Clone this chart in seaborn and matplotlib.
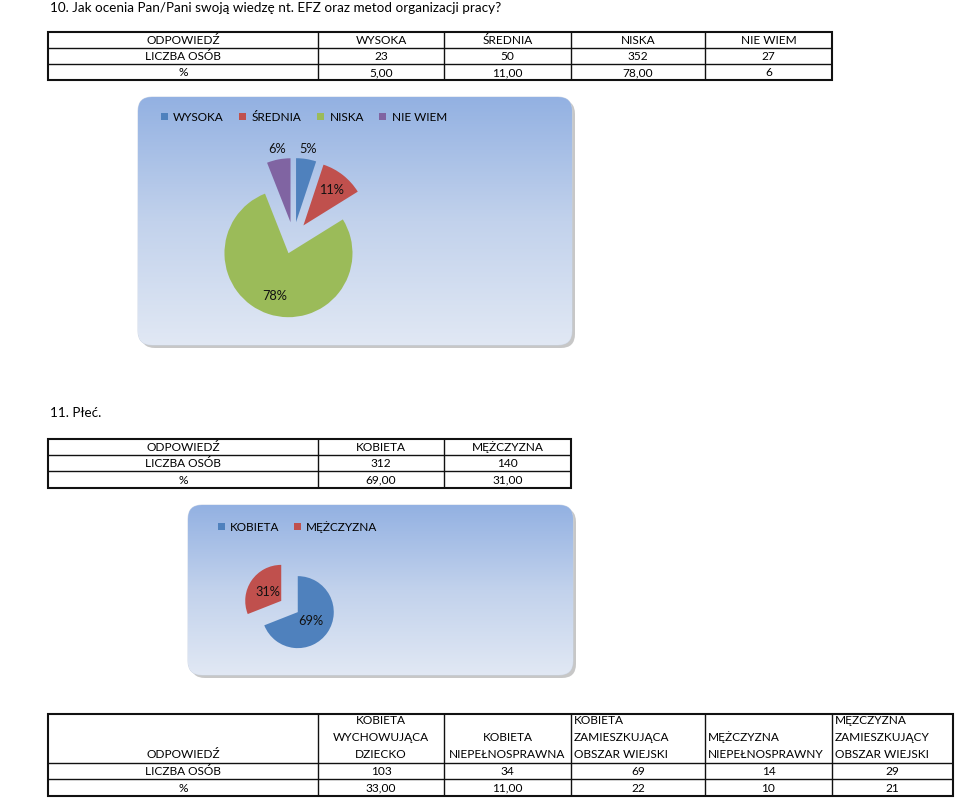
import numpy as np
import matplotlib
matplotlib.use("Agg")
import matplotlib.pyplot as plt
import seaborn as sns
from matplotlib.patches import FancyBboxPatch
from matplotlib.colors import LinearSegmentedColormap

# ---------------- data ----------------
q10_title = "10. Jak ocenia Pan/Pani swoją wiedzę nt. EFZ oraz metod organizacji pracy?"
q10_categories = ["WYSOKA", "ŚREDNIA", "NISKA", "NIE WIEM"]
q10_counts = [23, 50, 352, 27]
q10_percent_text = ["5,00", "11,00", "78,00", "6"]

q11_title = "11. Płeć."
q11_categories = ["KOBIETA", "MĘŻCZYZNA"]
q11_counts = [312, 140]
q11_percent_text = ["69,00", "31,00"]

q12_headers = [["KOBIETA", "WYCHOWUJĄCA", "DZIECKO"],
               ["KOBIETA", "NIEPEŁNOSPRAWNA"],
               ["KOBIETA", "ZAMIESZKUJĄCA", "OBSZAR WIEJSKI"],
               ["MĘŻCZYZNA", "NIEPEŁNOSPRAWNY"],
               ["MĘZCZYZNA", "ZAMIESZKUJĄCY", "OBSZAR WIEJSKI"]]
q12_counts = [103, 34, 69, 14, 29]
q12_percent_text = ["33,00", "11,00", "22", "10", "21"]

row_labels = ["ODPOWIEDŹ", "LICZBA OSÓB", "%"]

# ---------------- style ----------------
sns.set_theme(style="white")
plt.rcParams['font.family'] = ['Lato', 'DejaVu Sans']
excel = sns.color_palette(["#4F81BD", "#C0504D", "#9BBB59", "#8064A2"])

W, H = 960, 798
fig = plt.figure(figsize=(W / 100, H / 100), dpi=100)
bg = fig.add_axes([0, 0, 1, 1])
bg.set_xlim(0, W)
bg.set_ylim(H, 0)
bg.axis("off")

TXT = 8.6      # table font (pt)
TITLE = 9.7
LEG = 8.5
TC = "#000000"
BASE = 4.3     # baseline offset below row centre (px)


def draw_table(col_edges, row_edges, rows):
    x0, x1 = col_edges[0], col_edges[-1]
    y0, y1 = row_edges[0], row_edges[-1]
    for y in row_edges[1:-1]:
        bg.plot([x0, x1], [y, y], color="#111", lw=1.0, solid_capstyle="butt")
    for x in col_edges[1:-1]:
        bg.plot([x, x], [y0, y1], color="#111", lw=1.0, solid_capstyle="butt")
    bg.add_patch(plt.Rectangle((x0, y0), x1 - x0, y1 - y0, fill=False,
                               ec="#111", lw=1.5))
    for r, row in enumerate(rows):
        yc = (row_edges[r] + row_edges[r + 1]) / 2
        for c, val in enumerate(row):
            if val is None:
                continue
            xc = (col_edges[c] + col_edges[c + 1]) / 2
            bg.text(xc, yc + BASE, val, ha="center", va="baseline",
                    fontsize=TXT, color=TC)


def gradient_box(x0, y0, x1, y1):
    shadow = FancyBboxPatch((x0 + 3, y0 + 3), x1 - x0, y1 - y0,
                            boxstyle="round,pad=0,rounding_size=14",
                            fc="#9a9a9a", ec="none", alpha=0.55)
    bg.add_patch(shadow)
    box = FancyBboxPatch((x0, y0), x1 - x0, y1 - y0,
                         boxstyle="round,pad=0,rounding_size=14",
                         fc="none", ec="#c9d3e3", lw=0.6)
    bg.add_patch(box)
    cmap = LinearSegmentedColormap.from_list("g", ["#93b1e2", "#c2d2ec", "#e1e8f4"])
    grad = np.linspace(0, 1, 256).reshape(-1, 1)
    im = bg.imshow(grad, cmap=cmap, extent=[x0, x1, y1, y0], aspect="auto",
                   interpolation="bilinear", zorder=1)
    im.set_clip_path(box)
    bg.set_xlim(0, W)
    bg.set_ylim(H, 0)


def pie_axes(cx, cy, half):
    ax = fig.add_axes([(cx - half) / W, 1 - (cy + half) / H, 2 * half / W, 2 * half / H])
    ax.patch.set_alpha(0)
    return ax


def draw_pie(ax, counts, colors, radius, explode, half, dist):
    total = sum(counts)
    wedges, _ = ax.pie(counts, colors=colors, radius=radius,
                       explode=[explode] * len(counts), startangle=90,
                       counterclock=False, wedgeprops=dict(linewidth=0))
    for w, c, f in zip(wedges, counts, dist):
        th = np.deg2rad((w.theta1 + w.theta2) / 2)
        x = w.center[0] + f * w.r * np.cos(th)
        y = w.center[1] + f * w.r * np.sin(th)
        ax.text(x, y, f"{round(100 * c / total)}%", ha="center", va="center",
                fontsize=9.2, color="#111")
    ax.set_xlim(-half, half)
    ax.set_ylim(-half, half)
    ax.set_aspect("equal")
    ax.axis("off")
    return wedges


# ---------------- Q10 ----------------
bg.text(50, 12.5, q10_title, ha="left", va="baseline", fontsize=TITLE, color=TC)
draw_table([48, 318, 444, 571, 705, 832], [32, 48, 64, 80],
           [[row_labels[0]] + q10_categories,
            [row_labels[1]] + [str(v) for v in q10_counts],
            [row_labels[2]] + q10_percent_text])

gradient_box(138, 97, 572, 345)
ax1 = pie_axes(293.5, 238, 110)
w1 = draw_pie(ax1, q10_counts, excel, 64, 16, 110, [1.16, 0.7, 0.7, 1.16])
fig.legend(w1, q10_categories, loc="upper left",
           bbox_to_anchor=(155 / W, 1 - 106 / H), ncol=4, frameon=False,
           fontsize=LEG, borderpad=0, handlelength=0.6, handleheight=0.6,
           handletextpad=0.45, columnspacing=1.3, labelcolor=TC)

# ---------------- Q11 ----------------
bg.text(50, 417, q11_title, ha="left", va="baseline", fontsize=TITLE, color=TC)
draw_table([48, 318, 444, 571], [439, 455, 471, 488],
           [[row_labels[0]] + q11_categories,
            [row_labels[1]] + [str(v) for v in q11_counts],
            [row_labels[2]] + q11_percent_text])

gradient_box(188, 505, 573, 675)
ax2 = pie_axes(289.5, 606.5, 70)
w2 = draw_pie(ax2, q11_counts, excel[:2], 36, 10, 70, [0.45, 0.45])
fig.legend(w2, q11_categories, loc="upper left",
           bbox_to_anchor=(212 / W, 1 - 515 / H), ncol=2, frameon=False,
           fontsize=LEG, borderpad=0, handlelength=0.6, handleheight=0.6,
           handletextpad=0.45, columnspacing=1.2, labelcolor=TC)

# ---------------- Q12 table ----------------
cols3 = [48, 318, 444, 571, 705, 832, 953]
rows3 = [714, 763, 779, 796]
draw_table(cols3, rows3,
           [[None] * 6,
            [row_labels[1]] + [str(v) for v in q12_counts],
            [row_labels[2]] + q12_percent_text])
line_y = [754 + BASE, 737 + BASE, 720 + BASE]
bg.text((cols3[0] + cols3[1]) / 2, line_y[0], row_labels[0], ha="center",
        va="baseline", fontsize=TXT, color=TC)
for i, lines in enumerate(q12_headers):
    left = i >= 2
    for k, t in enumerate(reversed(lines)):
        if left:
            bg.text(cols3[i + 1] + 3, line_y[k], t, ha="left", va="baseline",
                    fontsize=TXT, color=TC)
        else:
            bg.text((cols3[i + 1] + cols3[i + 2]) / 2, line_y[k], t, ha="center",
                    va="baseline", fontsize=TXT, color=TC)

fig.savefig("out.png", dpi=100)
